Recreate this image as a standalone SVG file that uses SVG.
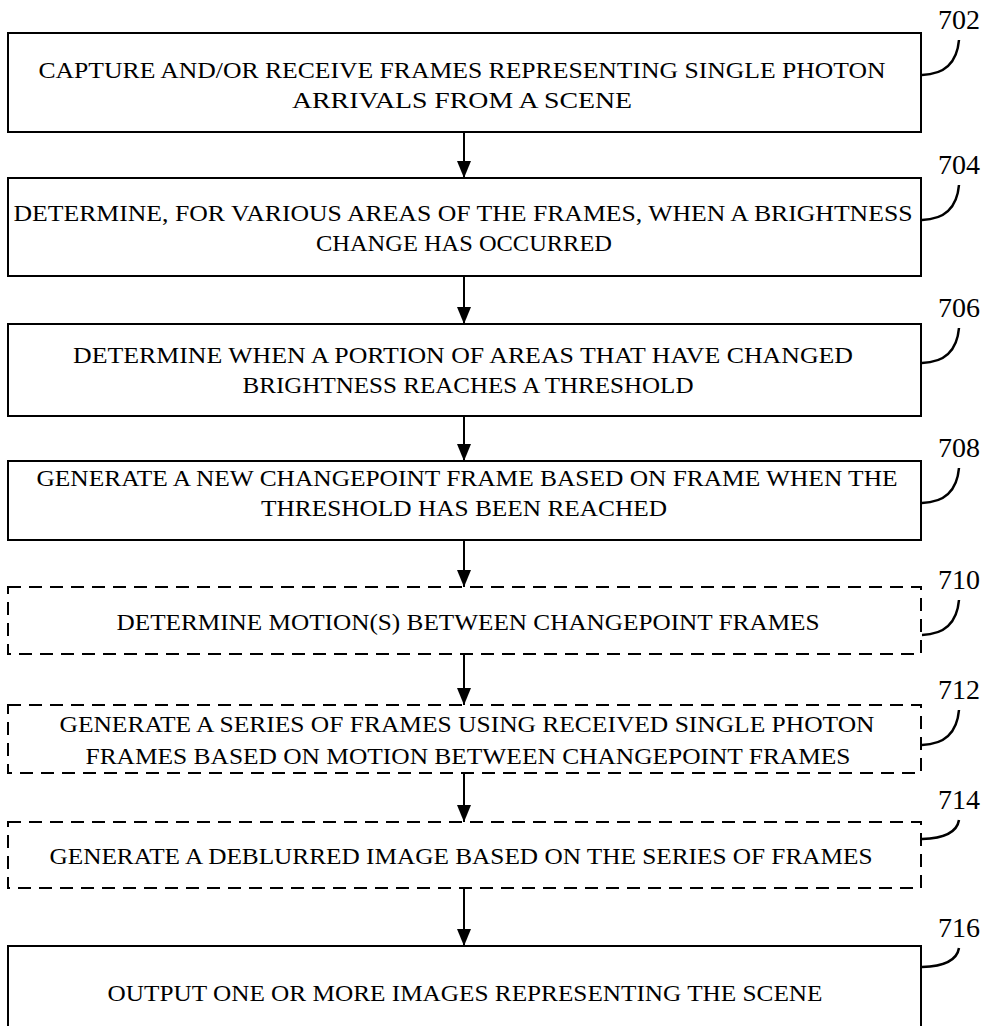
<svg xmlns="http://www.w3.org/2000/svg" width="987" height="1026" viewBox="0 0 987 1026">
<style>
.box{fill:#fff;stroke:#000;stroke-width:2}
.dash{fill:#fff;stroke:#000;stroke-width:2;stroke-dasharray:13 8}
.t{font-family:"Liberation Serif","Times New Roman",serif;font-size:24px;fill:#000;text-anchor:middle}
.lbl{font-family:"Liberation Serif","Times New Roman",serif;font-size:28px;fill:#000;text-anchor:middle}
.lead{fill:none;stroke:#000;stroke-width:2.5}
.conn{stroke:#000;stroke-width:2;fill:none;marker-end:url(#ah)}
</style>
<defs>
<marker id="ah" markerWidth="17" markerHeight="14" refX="17" refY="7" orient="auto" markerUnits="userSpaceOnUse" viewBox="0 0 17 14">
<path d="M0,0 L17,7 L0,14 Z" fill="#000"/>
</marker>
</defs>
<rect width="987" height="1026" fill="#fff"/>
<g id="connectors">
<line class="conn" x1="464" y1="132" x2="464" y2="178"/>
<line class="conn" x1="464" y1="276" x2="464" y2="324"/>
<line class="conn" x1="464" y1="416" x2="464" y2="461"/>
<line class="conn" x1="464" y1="540" x2="464" y2="587"/>
<line class="conn" x1="464" y1="654" x2="464" y2="705"/>
<line class="conn" x1="464" y1="773" x2="464" y2="822"/>
<line class="conn" x1="464" y1="888" x2="464" y2="946"/>
</g>
<g id="n702">
<rect class="box" x="8" y="33" width="913" height="99"/>
<text class="t" x="462" y="78" textLength="847" lengthAdjust="spacingAndGlyphs">CAPTURE AND/OR RECEIVE FRAMES REPRESENTING SINGLE PHOTON</text>
<text class="t" x="462" y="108" textLength="340" lengthAdjust="spacingAndGlyphs">ARRIVALS FROM A SCENE</text>
<text class="lbl" x="959" y="29">702</text>
<path class="lead" d="M959,40 Q956,74 922,75"/>
</g>
<g id="n704">
<rect class="box" x="8" y="178" width="913" height="98"/>
<text class="t" x="463" y="221" textLength="899" lengthAdjust="spacingAndGlyphs">DETERMINE, FOR VARIOUS AREAS OF THE FRAMES, WHEN A BRIGHTNESS</text>
<text class="t" x="464" y="251" textLength="296" lengthAdjust="spacingAndGlyphs">CHANGE HAS OCCURRED</text>
<text class="lbl" x="959" y="174">704</text>
<path class="lead" d="M959,185 Q956,219 922,220"/>
</g>
<g id="n706">
<rect class="box" x="8" y="324" width="913" height="92"/>
<text class="t" x="463" y="363" textLength="780" lengthAdjust="spacingAndGlyphs">DETERMINE WHEN A PORTION OF AREAS THAT HAVE CHANGED</text>
<text class="t" x="468" y="393" textLength="451" lengthAdjust="spacingAndGlyphs">BRIGHTNESS REACHES A THRESHOLD</text>
<text class="lbl" x="959" y="317">706</text>
<path class="lead" d="M959,328 Q956,362 922,363"/>
</g>
<g id="n708">
<rect class="box" x="8" y="461" width="913" height="79"/>
<text class="t" x="467" y="486" textLength="861" lengthAdjust="spacingAndGlyphs">GENERATE A NEW CHANGEPOINT FRAME BASED ON FRAME WHEN THE</text>
<text class="t" x="464" y="516" textLength="406" lengthAdjust="spacingAndGlyphs">THRESHOLD HAS BEEN REACHED</text>
<text class="lbl" x="959" y="457">708</text>
<path class="lead" d="M959,468 Q956,502 922,503"/>
</g>
<g id="n710">
<rect class="dash" x="8" y="587" width="913" height="67"/>
<text class="t" x="468" y="630" textLength="703" lengthAdjust="spacingAndGlyphs">DETERMINE MOTION(S) BETWEEN CHANGEPOINT FRAMES</text>
<text class="lbl" x="959" y="589">710</text>
<path class="lead" d="M959,600 Q956,634 922,635"/>
</g>
<g id="n712">
<rect class="dash" x="8" y="705" width="913" height="68"/>
<text class="t" x="467" y="732" textLength="815" lengthAdjust="spacingAndGlyphs">GENERATE A SERIES OF FRAMES USING RECEIVED SINGLE PHOTON</text>
<text class="t" x="468" y="764" textLength="765" lengthAdjust="spacingAndGlyphs">FRAMES BASED ON MOTION BETWEEN CHANGEPOINT FRAMES</text>
<text class="lbl" x="959" y="699">712</text>
<path class="lead" d="M959,710 Q956,744 922,745"/>
</g>
<g id="n714">
<rect class="dash" x="8" y="822" width="913" height="66"/>
<text class="t" x="461" y="864" textLength="823" lengthAdjust="spacingAndGlyphs">GENERATE A DEBLURRED IMAGE BASED ON THE SERIES OF FRAMES</text>
<text class="lbl" x="959" y="809">714</text>
<path class="lead" d="M959,820 Q956,838 922,839"/>
</g>
<g id="n716">
<rect class="box" x="8" y="946" width="913" height="100"/>
<text class="t" x="465" y="1001" textLength="715" lengthAdjust="spacingAndGlyphs">OUTPUT ONE OR MORE IMAGES REPRESENTING THE SCENE</text>
<text class="lbl" x="959" y="937">716</text>
<path class="lead" d="M959,948 Q956,966 922,967"/>
</g>
</svg>
